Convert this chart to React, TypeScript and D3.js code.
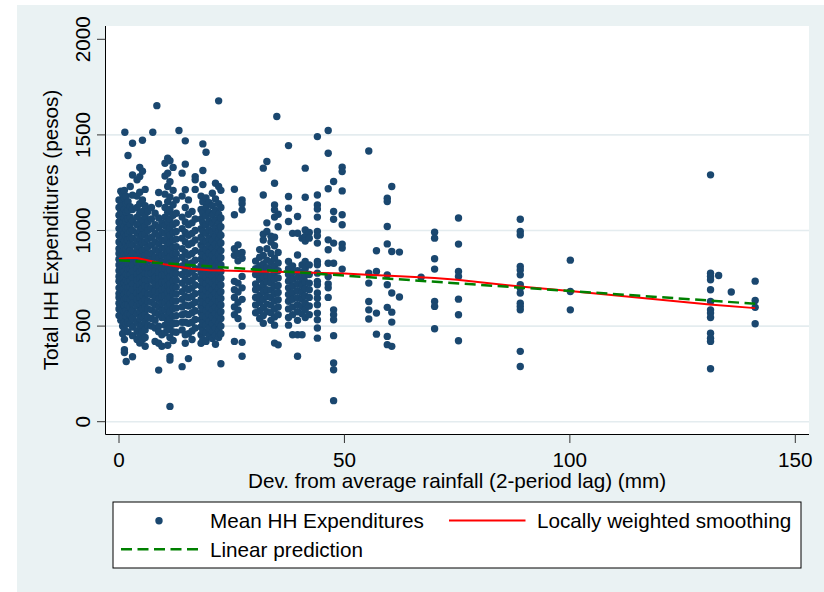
import React from "react";
import * as d3 from "d3";

// rainfall deviation (mm) of each vertical column of households
const colX = [
  0, 0.4, 0.8, 1.2, 1.3, 1.6, 2.0, 2.5, 3.0, 4.0, 4.6, 5.2, 5.8, 6.4, 7.2, 7.5, 8.0, 8.4, 8.8, 9.5,
  10.2, 10.8, 11.3, 12.0, 12.7, 13.3, 14.0, 14.7, 15.4, 16.2, 16.9, 18.2, 18.6, 19.3, 20.0, 20.7,
  21.4, 22.1, 22.6, 25.6, 26.4, 27.3, 30.3, 31.2, 32.0, 32.8, 33.7, 34.5, 35.0, 35.3, 37.6, 38.5,
  39.6, 40.6, 41.3, 42.2, 44.0, 46.4, 47.6, 49.5, 55.4, 57.1, 59.5, 60.5, 62.2, 67, 70, 75.3, 89,
  100.1, 131.2, 133, 135.8, 141.1,
];

// mean HH expenditures (pesos) in each column, same order as colX
const colY = [
  [1160, 1120, 1080, 1045, 1010, 975, 940, 905, 880, 850, 820, 790, 760, 735, 700, 670, 650, 620, 590, 555],
  [1205, 1150, 1100, 1060, 1025, 990, 955, 925, 895, 865, 830, 800, 775, 745, 715, 685, 660, 630, 600, 570, 530],
  [1190, 1130, 1090, 1040, 1000, 960, 920, 890, 860, 835, 810, 780, 750, 720, 690, 655, 625, 585, 545, 500, 460],
  [1210, 1170, 1110, 1065, 1020, 985, 945, 910, 875, 845, 815, 785, 755, 725, 695, 665, 640, 605, 575, 520, 480, 430, 376, 362],
  [1514],
  [1180, 1140, 1095, 1050, 1005, 970, 930, 900, 870, 840, 805, 770, 740, 710, 680, 645, 615, 580, 550, 510, 315],
  [1392, 1150, 1105, 1060, 1015, 980, 950, 915, 885, 855, 825, 795, 765, 730, 700, 675, 640, 610, 565, 520, 470],
  [1230, 1125, 1070, 1030, 995, 960, 930, 895, 860, 828, 798, 768, 740, 705, 672, 638, 600, 560, 515],
  [1456, 1290, 1185, 1110, 1050, 1000, 960, 925, 880, 850, 818, 786, 752, 720, 690, 650, 620, 580, 540, 495, 450, 340],
  [1265, 1180, 1120, 1070, 1030, 985, 945, 905, 870, 835, 800, 770, 740, 705, 672, 640, 605, 565, 520, 475, 430],
  [1330, 1282, 1200, 1140, 1090, 1040, 1000, 958, 920, 885, 850, 815, 782, 750, 718, 686, 650, 615, 578, 540, 500, 455, 412],
  [1472, 1310, 1160, 1100, 1055, 1012, 975, 935, 895, 860, 828, 795, 760, 728, 695, 660, 625, 590, 550, 505, 470, 430],
  [1215, 1130, 1075, 1022, 980, 940, 900, 868, 835, 808, 775, 742, 710, 678, 640, 600, 560, 520, 480, 440, 395],
  [1100, 1045, 1000, 955, 912, 878, 842, 805, 772, 738, 705, 668, 630, 590, 545, 505],
  [1120, 1060, 1010, 965, 925, 880, 845, 810, 775, 740, 700, 665, 625, 585, 540, 500],
  [1514],
  [1090, 1030, 985, 940, 900, 862, 825, 790, 755, 720, 685, 648, 610, 570, 530, 490, 420],
  [1653],
  [1199, 1140, 1065, 1015, 970, 930, 890, 852, 818, 782, 748, 712, 676, 640, 600, 560, 500, 470, 410, 270],
  [1040, 990, 950, 908, 870, 835, 800, 765, 728, 690, 655, 618, 580, 545, 455, 395],
  [1352, 1285, 1190, 1120, 1070, 1025, 985, 945, 905, 870, 835, 800, 765, 730, 695, 660, 622, 585, 545, 505, 465],
  [1378, 1300, 1230, 1150, 1095, 1045, 1000, 960, 920, 885, 850, 815, 780, 745, 710, 675, 640, 600, 560, 520, 480, 400],
  [1365, 1255, 1175, 1110, 1060, 1015, 975, 935, 898, 862, 828, 792, 758, 722, 688, 652, 615, 575, 535, 490, 440, 340, 323, 80],
  [1330, 1210, 1135, 1080, 1030, 990, 950, 912, 876, 840, 806, 772, 736, 702, 668, 630, 592, 552, 512, 470, 425],
  [1160, 1090, 1040, 995, 955, 915, 880, 845, 810, 775, 740, 704, 668, 632, 595, 555, 515, 468],
  [1523],
  [1300, 1180, 1070, 1010, 960, 905, 860, 815, 770, 725, 680, 640, 600, 560, 520, 480, 288],
  [1469, 1347, 1213, 1120, 1045, 990, 940, 885, 835, 790, 745, 700, 655, 610, 565, 520, 455, 410],
  [1160, 1085, 1030, 975, 925, 870, 820, 775, 732, 690, 648, 605, 560, 515, 460, 330],
  [1100, 1040, 985, 935, 880, 830, 785, 740, 700, 655, 612, 570, 520, 475, 430],
  [1282, 1265, 1215, 1060, 1000, 950, 895, 845, 800, 760, 715, 670, 625, 580, 535, 490],
  [1180, 1110, 1060, 1010, 965, 925, 885, 850, 815, 780, 745, 710, 675, 640, 605, 570, 535, 495, 455, 410],
  [1453, 1314, 1240, 1150, 1090, 1040, 995, 950, 910, 872, 835, 800, 765, 730, 695, 660, 625, 590, 552, 515, 475, 430],
  [1409, 1170, 1120, 1075, 1028, 985, 942, 900, 862, 826, 790, 756, 720, 686, 650, 615, 580, 545, 505, 465, 420],
  [1145, 1095, 1048, 1003, 960, 920, 882, 845, 808, 772, 738, 702, 668, 632, 598, 562, 525, 488, 448],
  [1195, 1130, 1080, 1035, 990, 948, 908, 870, 832, 796, 760, 726, 690, 655, 620, 585, 550, 512, 470, 435],
  [1247, 1165, 1105, 1055, 1012, 968, 928, 888, 852, 815, 778, 742, 708, 672, 638, 600, 565, 528, 490, 450, 405],
  [1678, 1230, 1140, 1085, 1040, 995, 955, 915, 875, 838, 802, 768, 732, 698, 662, 628, 590, 555, 515, 478, 440],
  [1210, 1120, 1065, 1020, 975, 935, 895, 858, 820, 785, 750, 715, 680, 645, 610, 575, 540, 500, 460, 303],
  [1216, 1082, 905, 870, 734, 690, 650, 600, 560, 420],
  [925, 880, 842, 725, 678, 625, 585, 540],
  [1160, 1140, 1108, 885, 855, 760, 700, 640, 500, 415, 342],
  [840, 800, 770, 720, 690, 650, 610, 570],
  [900, 860, 815, 780, 745, 700, 660, 625, 580, 540],
  [1326, 1186, 980, 950, 870, 825, 790, 755, 718, 680, 640, 598, 555, 515],
  [1361, 1040, 995, 905, 845, 805, 765, 730, 690, 655, 615, 575],
  [970, 940, 880, 835, 800, 760, 725, 688, 650, 610, 570, 530],
  [1247, 1134, 1108, 1070, 965, 920, 855, 815, 780, 745, 708, 670, 632, 590, 548, 505, 411],
  [1596],
  [1085, 1020, 885, 830, 790, 752, 712, 676, 638, 600, 560, 402],
  [1444, 1178, 1117, 1047, 838, 800, 770, 735, 700, 665, 630, 590, 545, 505],
  [985, 815, 780, 745, 710, 675, 640, 600, 560, 455],
  [1073, 986, 872, 790, 755, 720, 685, 648, 612, 575, 530, 455, 342],
  [960, 820, 782, 748, 712, 676, 640, 602, 565, 455],
  [1326, 1174, 1003, 969, 945, 838, 800, 765, 730, 695, 658, 620, 585, 545],
  [990, 960, 820, 770, 725, 690, 650, 605, 560],
  [1491, 1186, 1134, 1112, 1070, 995, 972, 934, 838, 821, 777, 734, 716, 673, 646, 612, 568, 533, 490, 437],
  [1523, 1404, 1218, 951, 899, 829, 760, 720, 700, 650],
  [1256, 1099, 1059, 934, 829, 585, 559, 533, 450, 307, 272, 110],
  [1331, 1308, 1207, 1082, 1030, 929, 908, 798],
  [1416, 777, 725, 629, 585, 537],
  [894, 786, 568, 458],
  [1169, 1152, 1021, 930, 768, 716, 598, 446, 403],
  [1230, 890, 673, 573, 521, 394],
  [887, 652],
  [756],
  [991, 960, 852, 798, 629, 603, 486],
  [1065, 929, 786, 760, 641, 559, 423],
  [1059, 995, 977, 812, 794, 768, 716, 699, 673, 620, 603, 585, 368, 289],
  [845, 681, 585],
  [1291, 777, 760, 742, 690, 629, 585, 568, 545, 463, 437, 420, 277],
  [765],
  [678],
  [735, 634, 598, 512],
];

// lowess curve
const lowessX = [0, 2, 4, 6, 8, 10, 13, 16, 20, 25, 30, 35, 40, 45, 50, 55, 60, 70, 75, 89, 100, 131, 141.1];
const lowessY = [852, 856, 856, 846, 835, 824, 812, 800, 792, 789, 786, 784, 781, 778, 775, 769, 763, 751, 743, 707, 683, 613, 594];

// linear fit end points
const lfitX = [0, 141.1];
const lfitY = [845, 617];

const xTicks = [0, 50, 100, 150];
const yTicks = [0, 500, 1000, 1500, 2000];
const yGrid = [0, 500, 1000, 1500];

const font = "Arial, 'Liberation Sans', Helvetica, sans-serif";
const navy = "#1a476f";
const bg = "#eaf2f3";
const fs = 20.7;

export default function App() {
  const plot = { left: 105.5, top: 26, right: 809, bottom: 434.5 };

  const x = d3.scaleLinear().domain([0, 150]).range([119, 795.3]);
  const y = d3.scaleLinear().domain([0, 2000]).range([421.7, 39.3]);

  const points: [number, number][] = [];
  colX.forEach((cx, i) => colY[i].forEach((v) => points.push([cx, v])));

  const line = d3
    .line<[number, number]>()
    .x((d) => x(d[0]))
    .y((d) => y(d[1]));

  const lowess = lowessX.map((v, i) => [v, lowessY[i]] as [number, number]);
  const lfit = lfitX.map((v, i) => [v, lfitY[i]] as [number, number]);

  return (
    <svg
      width={824}
      height={592}
      style={{ position: "absolute", left: 0, top: 0, display: "block" }}
      fontFamily={font}
    >
      <rect x={0} y={0} width={824} height={592} fill="#fff" />
      <rect x={17} y={5} width={807} height={587} fill={bg} />
      <rect x={plot.left} y={plot.top} width={plot.right - plot.left} height={plot.bottom - plot.top} fill="#fff" />

      {/* grid */}
      {yGrid.map((t) => (
        <line key={t} x1={plot.left} x2={plot.right} y1={y(t)} y2={y(t)} stroke="#e4ecef" strokeWidth={1.6} />
      ))}

      {/* points */}
      <g fill={navy}>
        {points.map((p, i) => (
          <circle key={i} cx={x(p[0])} cy={y(p[1])} r={3.7} />
        ))}
      </g>

      <path d={line(lowess) || ""} fill="none" stroke="#ff0000" strokeWidth={2} />
      <path d={line(lfit) || ""} fill="none" stroke="#008000" strokeWidth={2.5} strokeDasharray="11 5.5" />

      {/* axes */}
      <line x1={plot.left} x2={plot.left} y1={plot.top} y2={plot.bottom} stroke="#000" strokeWidth={1} />
      <line x1={plot.left} x2={plot.right} y1={plot.bottom} y2={plot.bottom} stroke="#000" strokeWidth={1} />

      {yTicks.map((t) => (
        <g key={t}>
          <line x1={97} x2={plot.left} y1={y(t)} y2={y(t)} stroke="#333" strokeWidth={1} />
          <text
            transform={`translate(89.5, ${y(t)}) rotate(-90)`}
            textAnchor="middle"
            fontSize={fs}
            fill="#000"
          >
            {t}
          </text>
        </g>
      ))}
      {xTicks.map((t) => (
        <g key={t}>
          <line x1={x(t)} x2={x(t)} y1={plot.bottom} y2={443} stroke="#333" strokeWidth={1} />
          <text x={x(t)} y={467} textAnchor="middle" fontSize={fs} fill="#000">
            {t}
          </text>
        </g>
      ))}

      <text transform="translate(57.5, 230) rotate(-90)" textAnchor="middle" fontSize={fs} fill="#000">
        Total HH Expenditures (pesos)
      </text>
      <text x={457} y={488} textAnchor="middle" fontSize={fs} fill="#000">
        Dev. from average rainfall (2-period lag) (mm)
      </text>

      {/* legend */}
      <rect x={113} y={502} width={688} height={66} fill="#fff" stroke="#000" strokeWidth={1} />
      <circle cx={159} cy={520.7} r={3.7} fill={navy} />
      <text x={210} y={527.7} fontSize={fs} fill="#000">
        Mean HH Expenditures
      </text>
      <line x1={449} x2={525.5} y1={520.5} y2={520.5} stroke="#ff0000" strokeWidth={2} />
      <text x={537} y={527.7} fontSize={fs} fill="#000">
        Locally weighted smoothing
      </text>
      <line x1={121} x2={198} y1={549.3} y2={549.3} stroke="#008000" strokeWidth={2.5} strokeDasharray="11 5.5" />
      <text x={210} y={557.3} fontSize={fs} fill="#000">
        Linear prediction
      </text>
    </svg>
  );
}
